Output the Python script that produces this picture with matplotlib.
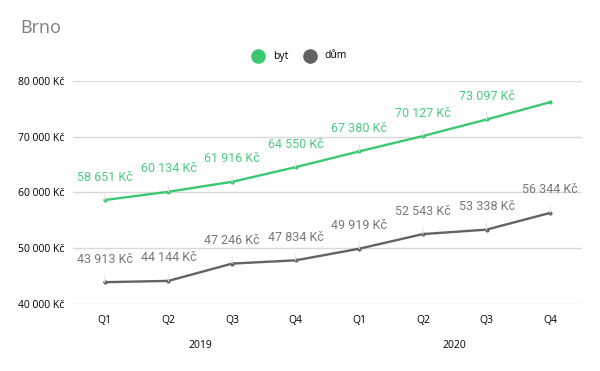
import matplotlib.pyplot as plt
from matplotlib.transforms import blended_transform_factory

quarters = ['Q1', 'Q2', 'Q3', 'Q4', 'Q1', 'Q2', 'Q3', 'Q4']
years = ['2019', '2020']
byt = [58651, 60134, 61916, 64550, 67380, 70127, 73097, 76200]
dum = [43913, 44144, 47246, 47834, 49919, 52543, 53338, 56344]
byt_labels = [True] * 7 + [False]
dum_labels = [True] * 8

green = '#3cc872'
gray = '#636363'

def fmt(v):
    return '{:,}'.format(v).replace(',', ' ') + ' Kč'

fig = plt.figure(figsize=(6, 3.71), dpi=100)
ax = fig.add_axes([0.1217, 0.1806, 0.8483, 0.6011])

x = list(range(len(quarters)))
ax.plot(x, byt, color=green, lw=1.7, marker='o', ms=3, mew=0, zorder=3)
ax.plot(x, dum, color=gray, lw=1.7, marker='o', ms=3, mew=0, zorder=3)

for xi, v, show in zip(x, byt, byt_labels):
    if show:
        ax.annotate(fmt(v), (xi, v), xytext=(0, 16.5), textcoords='offset points',
                    ha='center', va='center', color='#4ccb80', fontsize=9,
                    family='Roboto',
                    arrowprops=dict(arrowstyle='-', color='#e6e6e6', lw=0.8,
                                    shrinkA=5, shrinkB=0))
for xi, v, show in zip(x, dum, dum_labels):
    if show:
        ax.annotate(fmt(v), (xi, v), xytext=(0, 16.5), textcoords='offset points',
                    ha='center', va='center', color='#777777', fontsize=9,
                    family='Roboto',
                    arrowprops=dict(arrowstyle='-', color='#e6e6e6', lw=0.8,
                                    shrinkA=5, shrinkB=0))

ax.set_xlim(-0.5, 7.5)
ax.set_ylim(40000, 80000)
ax.set_yticks([40000, 50000, 60000, 70000, 80000])
ax.set_yticklabels([fmt(t) for t in [40000, 50000, 60000, 70000, 80000]],
                   fontsize=7.5, family='Open Sans')
ax.set_xticks(x)
ax.set_xticklabels(quarters, fontsize=7.5, family='Open Sans')
ax.grid(axis='y', color='#d9d9d9', lw=1)
ax.set_axisbelow(True)
for s in ax.spines.values():
    s.set_visible(False)
ax.tick_params(length=0, pad=6)
ax.tick_params(axis='x', pad=8)

tr = blended_transform_factory(ax.transData, ax.transAxes)
ax.text(1.5, -0.185, years[0], transform=tr, ha='center', va='center',
        fontsize=7.5, family='Open Sans')
ax.text(5.5, -0.185, years[1], transform=tr, ha='center', va='center',
        fontsize=7.5, family='Open Sans')

fig.text(20 / 600, 1 - 28 / 371, 'Brno', fontsize=13, color='#7f7f7f',
         family='Open Sans', va='center', ha='left')

# legend
fig.lines.append(plt.Line2D([258 / 600], [1 - 56 / 371], marker='o', ms=9.5,
                            color=green, transform=fig.transFigure, ls=''))
fig.text(273 / 600, 1 - 56 / 371, 'byt', fontsize=7.5, family='Open Sans',
         va='center')
fig.lines.append(plt.Line2D([310 / 600], [1 - 56 / 371], marker='o', ms=9.5,
                            color=gray, transform=fig.transFigure, ls=''))
fig.text(324 / 600, 1 - 56 / 371, 'dům', fontsize=7.5, family='Open Sans',
         va='center')

plt.savefig('out.png', dpi=100)
